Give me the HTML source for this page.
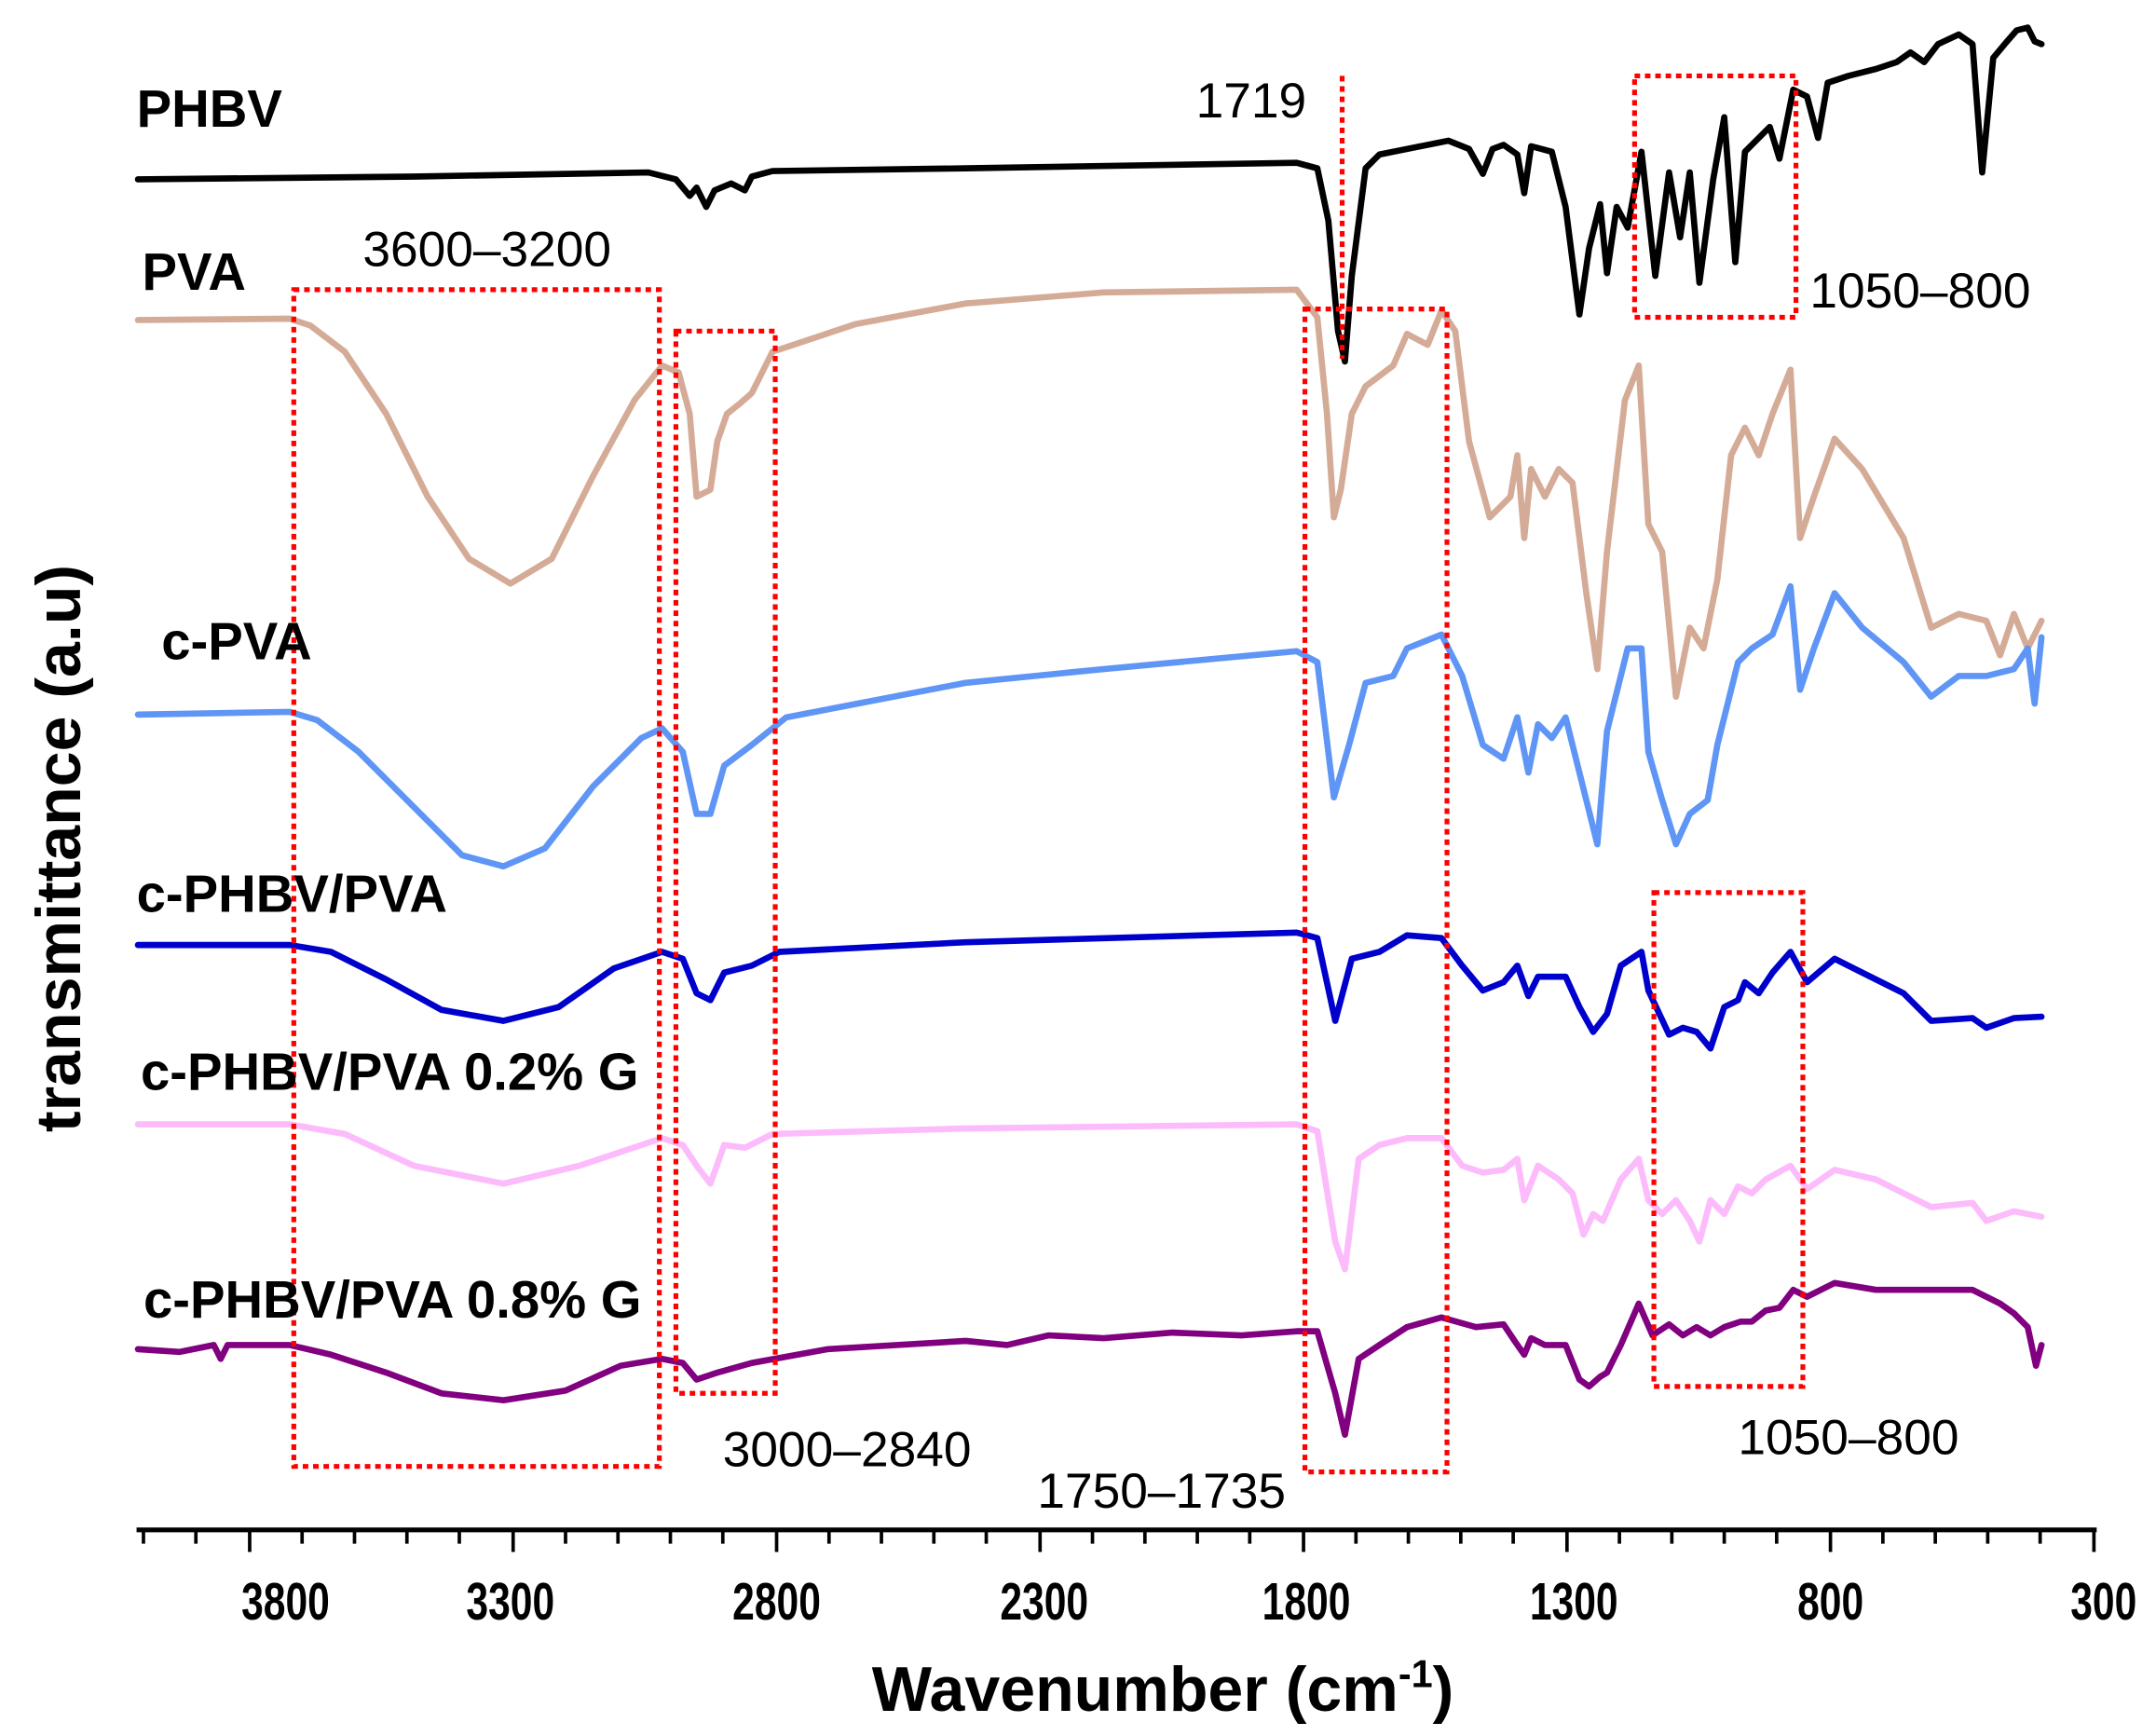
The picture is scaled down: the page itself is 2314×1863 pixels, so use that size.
<!DOCTYPE html>
<html><head><meta charset="utf-8"><style>
html,body{margin:0;padding:0;background:#fff;}
svg{display:block;}
.lb{font-family:"Liberation Sans",Arial,sans-serif;font-weight:bold;font-size:38px;fill:#000;}
.an{font-family:"Liberation Sans",sans-serif;font-size:36px;fill:#000;}
.tk{font-family:"Liberation Sans",sans-serif;font-weight:bold;font-size:38px;fill:#000;}
.ti{font-family:"Liberation Sans",Arial,sans-serif;font-weight:bold;font-size:46px;fill:#000;}
polyline{fill:none;stroke-width:4.5;stroke-linejoin:round;stroke-linecap:round;}
.box{fill:none;stroke:#ff0000;stroke-width:3.5;stroke-dasharray:4 3.5;}
</style></head><body>
<svg width="2314" height="1863" viewBox="0 0 1563 1258.4" preserveAspectRatio="none" xmlns="http://www.w3.org/2000/svg">
<rect width="1563" height="1258.4" fill="#fff"/>

<polyline stroke="#000" points="100,130 300,128 470,125 490,130 500,142 505,136 512,150 518,138 530,133 540,138 545,128 560,124 700,122 940,118 955,122 963,160 970,240 975,262 980,200 990,122 1000,112 1020,108 1050,102 1065,108 1075,126 1082,108 1090,105 1100,112 1105,140 1110,106 1125,110 1135,150 1145,228 1152,180 1160,148 1165,198 1172,150 1180,165 1190,110 1200,200 1210,125 1218,172 1225,125 1232,205 1242,130 1250,85 1258,190 1265,110 1275,100 1283,92 1290,115 1300,65 1310,70 1318,100 1325,60 1340,55 1360,50 1375,45 1385,38 1395,45 1405,32 1420,25 1430,32 1437,125 1445,42 1455,30 1462,22 1470,20 1475,30 1480,32"/>

<polyline stroke="#d4ab96" points="100,232 210,231 225,236 250,255 280,300 310,360 340,405 370,423 400,405 430,345 460,290 480,265 492,270 500,300 505,360 515,355 520,320 527,300 537,292 545,285 560,255 620,235 700,220 800,212 940,210 955,230 962,300 967,375 972,355 980,300 990,280 1010,265 1020,242 1035,250 1045,225 1055,240 1065,320 1080,375 1095,360 1100,330 1105,390 1110,340 1120,360 1130,340 1140,350 1150,430 1158,485 1165,400 1178,290 1188,265 1195,380 1205,400 1215,505 1225,455 1235,470 1245,420 1255,330 1265,310 1275,330 1285,300 1298,268 1305,390 1315,360 1330,318 1350,340 1380,390 1400,455 1420,445 1440,450 1450,475 1460,445 1470,470 1480,450"/>

<polyline stroke="#5f95f5" points="100,518 210,516 230,522 260,545 300,585 335,620 365,628 395,615 430,570 465,535 480,528 495,545 505,590 515,590 525,555 545,540 570,520 700,495 800,485 940,472 955,480 967,578 978,540 990,495 1010,490 1020,470 1045,460 1060,490 1075,540 1090,550 1100,520 1108,560 1115,525 1125,535 1135,520 1145,560 1158,612 1165,530 1180,470 1190,470 1195,545 1205,580 1215,612 1225,590 1238,580 1245,540 1260,480 1270,470 1285,460 1298,425 1305,500 1315,470 1330,430 1350,455 1380,480 1400,505 1420,490 1440,490 1460,485 1470,470 1475,510 1480,462"/>

<polyline stroke="#0000cd" points="100,685 210,685 240,690 280,710 320,732 365,740 405,730 445,702 480,690 495,695 505,720 515,725 525,705 545,700 565,690 700,683 940,676 955,680 968,740 980,695 1000,690 1020,678 1045,680 1060,700 1075,718 1090,712 1100,700 1108,722 1115,708 1135,708 1145,730 1155,748 1165,735 1175,700 1190,690 1195,718 1210,750 1220,745 1230,748 1240,760 1250,730 1260,725 1265,712 1275,720 1285,705 1298,690 1310,712 1330,695 1350,705 1380,720 1400,740 1430,738 1440,745 1460,738 1480,737"/>

<polyline stroke="#fcbcfc" points="100,815 210,815 250,822 300,845 365,858 420,845 480,825 495,830 505,845 515,858 525,830 540,832 560,822 700,818 940,815 955,820 968,900 975,920 985,840 1000,830 1020,825 1045,825 1060,845 1075,850 1090,848 1100,840 1105,870 1115,845 1130,855 1140,865 1148,895 1155,880 1162,885 1175,855 1188,840 1195,870 1205,880 1215,870 1225,885 1232,900 1240,870 1250,880 1260,860 1270,865 1280,855 1298,845 1310,862 1330,848 1360,855 1400,875 1430,872 1440,885 1460,878 1480,882"/>

<polyline stroke="#800080" points="100,978 130,980 155,975 160,985 165,975 210,975 240,982 280,995 320,1010 365,1015 410,1008 450,990 480,985 495,988 505,1000 520,995 545,988 600,978 700,972 730,975 760,968 800,970 850,966 900,968 940,965 955,965 968,1010 975,1040 985,985 1000,975 1020,962 1045,955 1070,962 1090,960 1098,972 1105,982 1110,970 1120,975 1135,975 1145,1000 1152,1005 1160,998 1165,995 1175,975 1188,945 1198,968 1210,960 1220,968 1230,962 1240,968 1250,962 1262,958 1270,958 1280,950 1290,948 1300,935 1310,940 1330,930 1360,935 1400,935 1430,935 1440,940 1450,945 1460,952 1470,962 1476,990 1480,975"/>

<rect class="box" x="213" y="210" width="265" height="853"/>
<rect class="box" x="490" y="240" width="72" height="770"/>
<rect class="box" x="946" y="224" width="103" height="843"/>
<rect class="box" x="1185" y="55" width="117" height="175"/>
<rect class="box" x="1199" y="647" width="108" height="358"/>
<line x1="973" y1="55" x2="973" y2="260" stroke="#ff0000" stroke-width="3.5" stroke-dasharray="4 3.5"/>

<text class="lb" x="99" y="92">PHBV</text>
<text class="lb" x="103" y="210">PVA</text>
<text class="lb" x="117" y="478">c-PVA</text>
<text class="lb" x="99" y="661">c-PHBV/PVA</text>
<text class="lb" x="102" y="790">c-PHBV/PVA 0.2% G</text>
<text class="lb" x="104" y="955">c-PHBV/PVA 0.8% G</text>

<text class="an" x="867" y="85">1719</text>
<text class="an" x="263" y="193">3600–3200</text>
<text class="an" x="1312" y="223">1050–800</text>
<text class="an" x="524" y="1063">3000–2840</text>
<text class="an" x="752" y="1093">1750–1735</text>
<text class="an" x="1260" y="1054">1050–800</text>

<line x1="99" y1="1109" x2="1520" y2="1109" stroke="#000" stroke-width="3.5"/>
<g stroke="#000" stroke-width="2.5">
<line x1="104" y1="1109" x2="104" y2="1119"/><line x1="142" y1="1109" x2="142" y2="1119"/>
<line x1="181" y1="1109" x2="181" y2="1125"/><line x1="219" y1="1109" x2="219" y2="1119"/>
<line x1="257" y1="1109" x2="257" y2="1119"/><line x1="295" y1="1109" x2="295" y2="1119"/>
<line x1="333" y1="1109" x2="333" y2="1119"/><line x1="372" y1="1109" x2="372" y2="1125"/>
<line x1="410" y1="1109" x2="410" y2="1119"/><line x1="448" y1="1109" x2="448" y2="1119"/>
<line x1="486" y1="1109" x2="486" y2="1119"/><line x1="524" y1="1109" x2="524" y2="1119"/>
<line x1="563" y1="1109" x2="563" y2="1125"/><line x1="601" y1="1109" x2="601" y2="1119"/>
<line x1="639" y1="1109" x2="639" y2="1119"/><line x1="677" y1="1109" x2="677" y2="1119"/>
<line x1="715" y1="1109" x2="715" y2="1119"/><line x1="754" y1="1109" x2="754" y2="1125"/>
<line x1="792" y1="1109" x2="792" y2="1119"/><line x1="830" y1="1109" x2="830" y2="1119"/>
<line x1="868" y1="1109" x2="868" y2="1119"/><line x1="906" y1="1109" x2="906" y2="1119"/>
<line x1="945" y1="1109" x2="945" y2="1125"/><line x1="983" y1="1109" x2="983" y2="1119"/>
<line x1="1021" y1="1109" x2="1021" y2="1119"/><line x1="1059" y1="1109" x2="1059" y2="1119"/>
<line x1="1097" y1="1109" x2="1097" y2="1119"/><line x1="1136" y1="1109" x2="1136" y2="1125"/>
<line x1="1174" y1="1109" x2="1174" y2="1119"/><line x1="1212" y1="1109" x2="1212" y2="1119"/>
<line x1="1250" y1="1109" x2="1250" y2="1119"/><line x1="1288" y1="1109" x2="1288" y2="1119"/>
<line x1="1327" y1="1109" x2="1327" y2="1125"/><line x1="1365" y1="1109" x2="1365" y2="1119"/>
<line x1="1403" y1="1109" x2="1403" y2="1119"/><line x1="1441" y1="1109" x2="1441" y2="1119"/>
<line x1="1479" y1="1109" x2="1479" y2="1119"/><line x1="1518" y1="1109" x2="1518" y2="1125"/>
</g>
<g class="tk" text-anchor="middle">
<text x="207" y="1174" textLength="64" lengthAdjust="spacingAndGlyphs">3800</text>
<text x="370" y="1174" textLength="64" lengthAdjust="spacingAndGlyphs">3300</text>
<text x="563" y="1174" textLength="64" lengthAdjust="spacingAndGlyphs">2800</text>
<text x="757" y="1174" textLength="64" lengthAdjust="spacingAndGlyphs">2300</text>
<text x="947" y="1174" textLength="64" lengthAdjust="spacingAndGlyphs">1800</text>
<text x="1141" y="1174" textLength="64" lengthAdjust="spacingAndGlyphs">1300</text>
<text x="1327" y="1174" textLength="48" lengthAdjust="spacingAndGlyphs">800</text>
<text x="1525" y="1174" textLength="48" lengthAdjust="spacingAndGlyphs">300</text>
</g>
<text class="ti" x="843" y="1240" text-anchor="middle">Wavenumber (cm<tspan font-size="28" dy="-17">-1</tspan><tspan dy="17">)</tspan></text>
<text class="ti" transform="translate(58,615) rotate(-90)" text-anchor="middle">transmittance (a.u)</text>
</svg>
</body></html>
